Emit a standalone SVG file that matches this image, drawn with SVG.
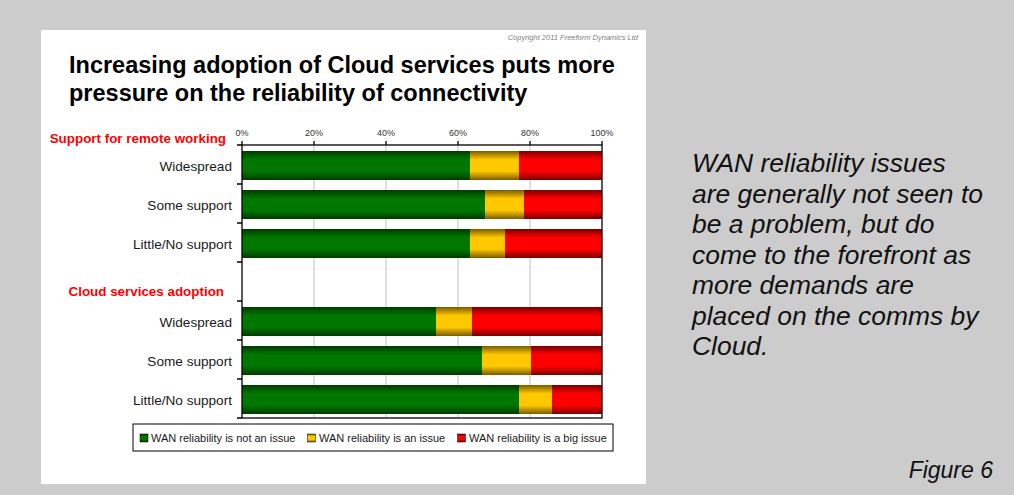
<svg xmlns="http://www.w3.org/2000/svg" width="1014" height="495" viewBox="0 0 1014 495">
  <defs>
    <linearGradient id="gG" x1="0" y1="0" x2="0" y2="1">
      <stop offset="0" stop-color="#003a00"/>
      <stop offset="0.3" stop-color="#007800"/>
      <stop offset="0.7" stop-color="#007800"/>
      <stop offset="1" stop-color="#003a00"/>
    </linearGradient>
    <linearGradient id="gY" x1="0" y1="0" x2="0" y2="1">
      <stop offset="0" stop-color="#7a5c00"/>
      <stop offset="0.3" stop-color="#ffc800"/>
      <stop offset="0.7" stop-color="#ffc800"/>
      <stop offset="1" stop-color="#7a5c00"/>
    </linearGradient>
    <linearGradient id="gR" x1="0" y1="0" x2="0" y2="1">
      <stop offset="0" stop-color="#7a0000"/>
      <stop offset="0.3" stop-color="#ff0000"/>
      <stop offset="0.7" stop-color="#ff0000"/>
      <stop offset="1" stop-color="#7a0000"/>
    </linearGradient>
    <style>
      .sans { font-family: "Liberation Sans", Arial, sans-serif; }
      .title { font-family: "Liberation Sans", Arial, sans-serif; font-weight: bold; font-size: 23.5px; fill: #000; }
      .sec { font-family: "Liberation Sans", Arial, sans-serif; font-weight: bold; font-size: 13.4px; fill: #ff0000; text-anchor: end; }
      .cat { font-family: "Liberation Sans", Arial, sans-serif; font-size: 13.6px; fill: #1a1a1a; text-anchor: end; }
      .tick { font-family: "Liberation Sans", Arial, sans-serif; font-size: 9px; fill: #333; text-anchor: middle; }
      .leg { font-family: "Liberation Sans", Arial, sans-serif; font-size: 11px; fill: #1a1a1a; }
      .note { font-family: "Liberation Sans", Arial, sans-serif; font-style: italic; font-size: 25px; fill: #111; }
      .grid { stroke: #d4d4d4; stroke-width: 1.5; }
      .axis { stroke: #000; stroke-width: 1.3; fill: none; }
      .g { fill: url(#gG); }
      .y { fill: url(#gY); }
      .r { fill: url(#gR); }
    </style>
  </defs>

  <rect x="0" y="0" width="1014" height="495" fill="#cccccc"/>
  <rect id="panel" x="41" y="30" width="605" height="454" fill="#ffffff"/>

  <text class="sans" x="638" y="40" font-size="7.5" font-style="italic" fill="#808080" text-anchor="end">Copyright 2011 Freeform Dynamics Ltd</text>

  <g id="title">
    <text class="title" x="69" y="73">Increasing adoption of Cloud services puts more</text>
    <text class="title" x="69" y="101">pressure on the reliability of connectivity</text>
  </g>

  <g id="grid">
    <line class="grid" x1="314" y1="145" x2="314" y2="418"/>
    <line class="grid" x1="386" y1="145" x2="386" y2="418"/>
    <line class="grid" x1="458" y1="145" x2="458" y2="418"/>
    <line class="grid" x1="530" y1="145" x2="530" y2="418"/>
  </g>

  <g id="axis-labels">
    <text class="tick" x="242" y="136">0%</text>
    <text class="tick" x="314" y="136">20%</text>
    <text class="tick" x="386" y="136">40%</text>
    <text class="tick" x="458" y="136">60%</text>
    <text class="tick" x="530" y="136">80%</text>
    <text class="tick" x="602" y="136">100%</text>
  </g>

  <g id="sections">
    <text class="sec" x="226" y="143">Support for remote working</text>
    <text class="sec" x="224" y="296">Cloud services adoption</text>
  </g>

  <g id="row-remote-widespread">
    <text class="cat" x="232" y="171">Widespread</text>
    <rect class="g" x="242" y="151" width="228" height="29"/>
    <rect class="y" x="470" y="151" width="49" height="29"/>
    <rect class="r" x="519" y="151" width="83" height="29"/>
  </g>
  <g id="row-remote-some">
    <text class="cat" x="232" y="210">Some support</text>
    <rect class="g" x="242" y="190" width="243" height="29"/>
    <rect class="y" x="485" y="190" width="39" height="29"/>
    <rect class="r" x="524" y="190" width="78" height="29"/>
  </g>
  <g id="row-remote-little">
    <text class="cat" x="232" y="249">Little/No support</text>
    <rect class="g" x="242" y="229" width="228" height="29"/>
    <rect class="y" x="470" y="229" width="35" height="29"/>
    <rect class="r" x="505" y="229" width="97" height="29"/>
  </g>
  <g id="row-cloud-widespread">
    <text class="cat" x="232" y="327">Widespread</text>
    <rect class="g" x="242" y="307" width="194" height="29"/>
    <rect class="y" x="436" y="307" width="36" height="29"/>
    <rect class="r" x="472" y="307" width="130" height="29"/>
  </g>
  <g id="row-cloud-some">
    <text class="cat" x="232" y="366">Some support</text>
    <rect class="g" x="242" y="346" width="240" height="29"/>
    <rect class="y" x="482" y="346" width="49" height="29"/>
    <rect class="r" x="531" y="346" width="71" height="29"/>
  </g>
  <g id="row-cloud-little">
    <text class="cat" x="232" y="405">Little/No support</text>
    <rect class="g" x="242" y="385" width="277" height="29"/>
    <rect class="y" x="519" y="385" width="33" height="29"/>
    <rect class="r" x="552" y="385" width="50" height="29"/>
  </g>

  <g id="axes">
    <rect class="axis" x="242" y="145" width="360" height="273"/>
    <path class="axis" d="M242 141V145M314 141V145M386 141V145M458 141V145M530 141V145M602 141V145"/>
    <path class="axis" d="M237 145H242M237 184H242M237 223H242M237 262H242M237 301H242M237 340H242M237 379H242M237 418H242"/>
  </g>

  <g id="legend">
    <rect x="133" y="424" width="480" height="27" fill="#ffffff" stroke="#000" stroke-width="1"/>
    <rect class="g" x="140" y="434" width="8" height="8" stroke="#000" stroke-width="0.5"/>
    <text class="leg" x="151" y="442">WAN reliability is not an issue</text>
    <rect class="y" x="307.5" y="434" width="8" height="8" stroke="#000" stroke-width="0.5"/>
    <text class="leg" x="319" y="442">WAN reliability is an issue</text>
    <rect class="r" x="457.5" y="434" width="8" height="8" stroke="#000" stroke-width="0.5"/>
    <text class="leg" x="469" y="442">WAN reliability is a big issue</text>
  </g>

  <g id="note" transform="translate(692,0) scale(1.058,1)">
    <text class="note" x="0" y="172">WAN reliability issues</text>
    <text class="note" x="0" y="203">are generally not seen to</text>
    <text class="note" x="0" y="233.5">be a problem, but do</text>
    <text class="note" x="0" y="264">come to the forefront as</text>
    <text class="note" x="0" y="294.5">more demands are</text>
    <text class="note" x="0" y="325">placed on the comms by</text>
    <text class="note" x="0" y="355.5">Cloud.</text>
  </g>

  <text id="figure-label" class="sans" x="993" y="478" font-size="23" font-style="italic" fill="#111" text-anchor="end">Figure 6</text>
</svg>
